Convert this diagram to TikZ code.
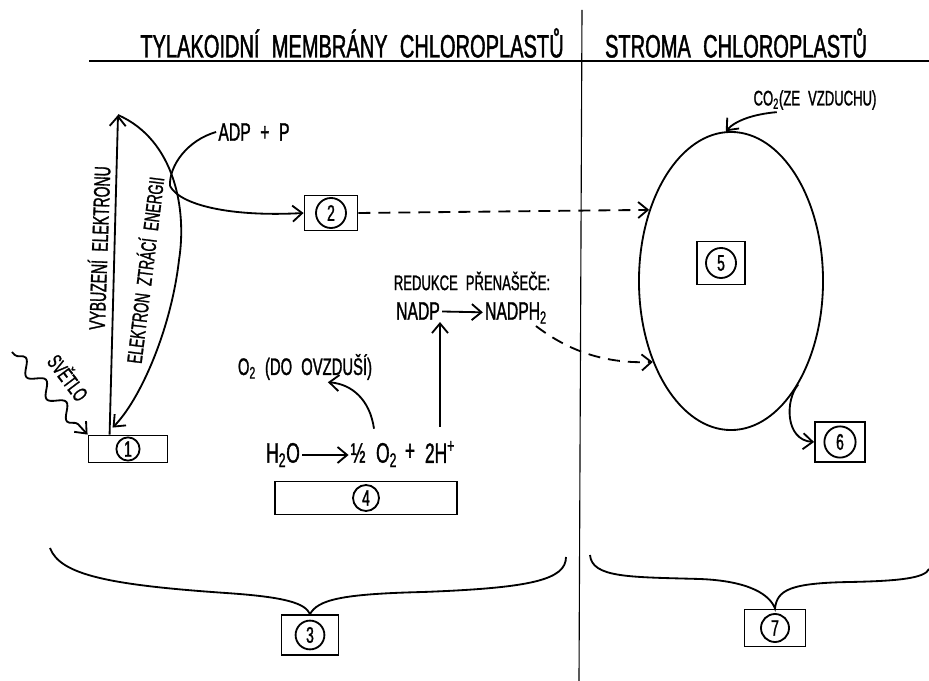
\documentclass[tikz,border=0pt]{standalone}
\usepackage{fontspec}
\newfontfamily\hand[FakeStretch=0.62, WordSpace=2.2, FakeBold=1.2]{Liberation Sans}
\usetikzlibrary{arrows.meta,shapes.geometric,decorations.pathmorphing,calc}

\begin{document}
\begin{tikzpicture}[
    x=0.025cm, y=0.025cm,
    line width=1.3pt, >={Straight Barb[length=2.4mm,width=4mm]},
    numbox/.style = {rectangle, draw, inner sep=0pt},
    numcirc/.style = {circle, draw, inner sep=0pt, font=\hand\fontsize{16}{16}\selectfont},
    lettering/.style = {inner sep=1pt, font=\hand\fontsize{#1}{#1}\selectfont},
    lettering/.default = 17,
    dashedarrow/.style = {->, dash pattern=on 3mm off 2mm}
  ]
  \useasboundingbox (0,0) rectangle (929,-681);

  % header and the two halves
  \draw[line width=1.6pt] (89,-61) -- (929,-61);
  \draw[line width=0.8pt] (582,-10) -- (579,-681);
  \node[lettering=23] (thyl) at (352,-43) {TYLAKOIDNÍ MEMBRÁNY CHLOROPLASTŮ};
  \node[lettering=23] (stroma) at (736,-43) {STROMA CHLOROPLASTŮ};

  % numbered boxes
  \node[numbox, minimum width=1.975cm, minimum height=0.675cm] (b1) at (128,-449) {};
  \node[numcirc, minimum size=0.58cm] (c1) at (b1) {1};
  \node[numbox, minimum width=1.325cm, minimum height=0.875cm] (b2) at (331,-213) {};
  \node[numcirc, minimum size=0.75cm] (c2) at (b2) {2};
  \node[numbox, minimum width=1.425cm, minimum height=1.0cm] (b3) at (310,-635) {};
  \node[numcirc, minimum size=0.72cm] (c3) at (b3) {3};
  \node[numbox, minimum width=4.55cm, minimum height=0.825cm] (b4) at (366,-498) {};
  \node[numcirc, minimum size=0.65cm] (c4) at (b4) {4};
  \node[draw, ellipse, inner sep=0pt, minimum width=4.6cm, minimum height=7.45cm] (cycle) at (731,-281) {};
  \node[numbox, minimum width=1.2cm, minimum height=1.075cm] (b5) at (721,-263) {};
  \node[numcirc, minimum size=0.75cm] (c5) at (b5) {5};
  \node[numbox, minimum width=1.25cm, minimum height=1.0cm] (b6) at (840,-442) {};
  \node[numcirc, minimum size=0.78cm] (c6) at (b6) {6};
  \node[numbox, minimum width=1.525cm, minimum height=0.925cm] (b7) at (775,-628) {};
  \node[numcirc, minimum size=0.7cm] (c7) at (b7) {7};

  % light and electron
  \coordinate (sun) at (12,-352);
  \coordinate (peak) at (118,-115);
  \coordinate (spend) at (170,-186);
  \node[lettering=15, rotate=-53] (light) at (69,-377) {SVĚTLO};
  \node[lettering=16, rotate=88] (excite) at (98,-248) {VYBUZENÍ ELEKTRONU};
  \node[lettering=15, rotate=83] (loss) at (144,-270) {ELEKTRON ZTRÁCÍ ENERGII};
  \node[lettering=18] (adp) at (254,-132) {ADP + P};
  \draw[->, decorate, decoration={snake, amplitude=1.6mm, segment length=7.5mm, pre length=1mm, post length=3mm}] (sun) -- (b1.north west);
  \draw[->] ([xshift=0.55cm]b1.north west) -- (peak);
  \draw[->] (peak) .. controls (175,-140) and (187,-210) .. (179,-260) .. controls (171,-330) and (140,-400) .. ([shift={(25,7)}]b1.north west);
  \draw (adp.west) .. controls (188,-140) and (169,-165) .. (spend);
  \draw[->] (spend) .. controls (180,-205) and (230,-217) .. (b2.west);
  \draw[dashedarrow] (b2.east) -- (cycle.139);

  % water splitting and NADP
  \node[lettering=20] (h2o) at (283,-455) {H\textsubscript{2}O};
  \node[lettering=20] (half) at (374,-455) {½ O\textsubscript{2}};
  \node[lettering=20] (plus) at (410,-452) {+};
  \node[lettering=20] (hpl) at (440,-452) {2H\textsuperscript{+}};
  \node[lettering=17] (o2) at (305,-367) {O\textsubscript{2} (DO OVZDUŠÍ)};
  \node[lettering=15] (redu) at (472,-281) {REDUKCE PŘENAŠEČE:};
  \node[lettering=18] (nadp) at (418,-311) {NADP};
  \node[lettering=18] (nadph) at (516,-313) {NADPH\textsubscript{2}};
  \draw[->] (h2o) -- (half);
  \draw[->] ([yshift=0.3cm]half.north) .. controls (370,-400) and (352,-384) .. ($(o2.south)!0.33!(o2.south east)$);
  \draw[->] ([yshift=0.3cm]hpl.north) -- (hpl.north |- nadp.south);
  \draw[->] (nadp) -- (nadph);
  \draw[dashedarrow] ($(nadph.south)!0.6!(nadph.south east)$) .. controls (565,-348) and (600,-364) .. (cycle.226);

  % stroma
  \node[lettering=15] (co2) at (815,-100) {CO\textsubscript{2}(ZE VZDUCHU)};
  \draw[->] ($(co2.south west)!0.2!(co2.south east)$) .. controls (755,-114) and (736,-120) .. (cycle.92);
  \draw[->] (cycle.303) .. controls (785,-400) and (785,-440) .. (b6.west);

  % braces
  \coordinate (thylL) at (50,-548);
  \coordinate (thylR) at (566,-557);
  \coordinate (stromaL) at (590,-555);
  \coordinate (stromaR) at (929,-569);
  \draw (thylL) .. controls (60,-575) and (110,-585) .. (226,-593) .. controls (285,-597) and (305,-603) .. (b3.north)
        .. controls (318,-600) and (340,-594) .. (423,-592) .. controls (530,-588) and (566,-580) .. (thylR);
  \draw (stromaL) .. controls (592,-578) and (630,-577) .. (700,-579) .. controls (750,-581) and (770,-595) .. (b7.north)
        .. controls (777,-590) and (790,-583) .. (850,-582) .. controls (900,-581) and (925,-578) .. (stromaR);
\end{tikzpicture}
\end{document}
